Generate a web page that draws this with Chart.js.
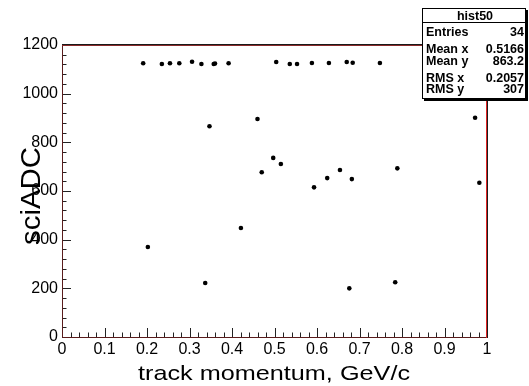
<!DOCTYPE html>
<html>
<head>
<meta charset="utf-8">
<script src="https://cdn.jsdelivr.net/npm/chart.js@4.4.0/dist/chart.umd.min.js"></script>
<style>
  html, body { margin: 0; padding: 0; background: #fff; }
  #wrap { width: 529px; height: 386px; }
</style>
</head>
<body>
<div id="wrap"><canvas id="hist50" width="529" height="386"></canvas></div>
<script>
// track momentum (GeV/c) and sciADC for each entry of hist50
var momentum = [0.191, 0.235, 0.254, 0.276, 0.306, 0.328, 0.357, 0.360, 0.392, 0.504,
                0.536, 0.553, 0.588, 0.628, 0.670, 0.684, 0.748,
                0.202, 0.337, 0.347, 0.421, 0.460, 0.470, 0.497, 0.515, 0.593,
                0.624, 0.654, 0.676, 0.682, 0.784, 0.789, 0.972, 0.982];
var sciAdc = [1125, 1122, 1125, 1125, 1131, 1122, 1122, 1124, 1125, 1130,
              1122, 1122, 1126, 1126, 1130, 1127, 1126,
              370, 222, 866, 448, 896, 677, 736, 711, 615,
              653, 686, 200, 649, 225, 693, 901, 634];

var xTicks = [0, 0.1, 0.2, 0.3, 0.4, 0.5, 0.6, 0.7, 0.8, 0.9, 1];
var yTicks = [0, 200, 400, 600, 800, 1000, 1200];
var xMinorStep = 0.02;
var yMinorStep = 40;

var statsTitle = 'hist50';
var statLabels = ['Entries', 'Mean x', 'Mean y', 'RMS x', 'RMS y'];
var statValues = ['34', '0.5166', '863.2', '0.2057', '307'];

var FONT = '"Liberation Sans", Arial, Helvetica, sans-serif';

var points = momentum.map(function (p, i) {
    return { x: p, y: sciAdc[i] };
});

// fill text squeezed/stretched to a given width
function fitText(ctx, text, x, y, width) {
    var w = ctx.measureText(text).width;
    ctx.save();
    ctx.translate(x, y);
    ctx.scale(width / w, 1);
    ctx.fillText(text, 0, 0);
    ctx.restore();
}

var rootFrame = {
    id: 'rootFrame',
    afterDraw: function (chart) {
        var ctx = chart.ctx;
        var a = chart.chartArea;
        var xs = chart.scales.x;
        var ys = chart.scales.y;
        ctx.save();

        // tick marks, drawn inward
        ctx.strokeStyle = '#222';
        ctx.lineWidth = 1;
        ctx.beginPath();
        var nx = Math.round((xs.max - xs.min) / xMinorStep);
        for (var i = 0; i <= nx; i++) {
            var px = Math.round(xs.getPixelForValue(xs.min + i * xMinorStep)) + 0.5;
            var len = (i % 5 === 0) ? 9 : 4.5;
            ctx.moveTo(px, a.bottom);
            ctx.lineTo(px, a.bottom - len);
        }
        var ny = Math.round((ys.max - ys.min) / yMinorStep);
        for (var j = 0; j <= ny; j++) {
            var py = Math.round(ys.getPixelForValue(ys.min + j * yMinorStep)) + 0.5;
            var ylen = (j % 5 === 0) ? 9 : 4.5;
            ctx.moveTo(a.left, py);
            ctx.lineTo(a.left + ylen, py);
        }
        ctx.stroke();

        // frame
        ctx.beginPath();
        ctx.strokeStyle = '#5a1c1c';
        ctx.moveTo(a.left + 0.5, a.top);
        ctx.lineTo(a.left + 0.5, a.bottom + 0.5);
        ctx.lineTo(a.right, a.bottom + 0.5);
        ctx.stroke();
        ctx.beginPath();
        ctx.strokeStyle = '#1a1a1a';
        ctx.moveTo(a.left, a.top - 0.5);
        ctx.lineTo(a.right + 1, a.top - 0.5);
        ctx.moveTo(a.right + 0.5, a.top);
        ctx.lineTo(a.right + 0.5, a.bottom + 1);
        ctx.stroke();
        ctx.beginPath();
        ctx.strokeStyle = '#8a2a2a';
        ctx.moveTo(a.left, a.top + 0.5);
        ctx.lineTo(a.right, a.top + 0.5);
        ctx.stroke();
        ctx.beginPath();
        ctx.strokeStyle = '#e02424';
        ctx.moveTo(a.right - 0.5, a.top);
        ctx.lineTo(a.right - 0.5, a.bottom + 1);
        ctx.stroke();

        // axis titles
        ctx.fillStyle = '#000';
        ctx.textBaseline = 'alphabetic';
        ctx.textAlign = 'left';
        ctx.font = '21px ' + FONT;
        fitText(ctx, 'track momentum, GeV/c', 138, 380, 272);

        ctx.save();
        ctx.translate(40, 245);
        ctx.rotate(-Math.PI / 2);
        ctx.font = '27px ' + FONT;
        fitText(ctx, 'sciADC', 0, 0, 98);
        ctx.restore();

        // statistics box
        var bx = 422, by = 8, bw = 104, bh = 91;
        ctx.fillStyle = '#000';
        ctx.fillRect(bx + 2, by + 2, bw, bh);
        ctx.fillStyle = '#fff';
        ctx.fillRect(bx, by, bw, bh);
        ctx.strokeStyle = '#000';
        ctx.strokeRect(bx + 0.5, by + 0.5, bw - 1, bh - 1);
        ctx.beginPath();
        ctx.moveTo(bx, by + 14.5);
        ctx.lineTo(bx + bw, by + 14.5);
        ctx.stroke();

        ctx.fillStyle = '#000';
        ctx.font = 'bold 12.5px ' + FONT;
        ctx.textAlign = 'center';
        ctx.fillText(statsTitle, bx + bw / 2 + 1, by + 12);
        var rowY = [36, 53, 64.5, 81.5, 92.5];
        for (var k = 0; k < statLabels.length; k++) {
            ctx.textAlign = 'left';
            ctx.fillText(statLabels[k], bx + 4, rowY[k]);
            ctx.textAlign = 'right';
            ctx.fillText(statValues[k], bx + bw - 2, rowY[k]);
        }
        ctx.restore();
    }
};

new Chart(document.getElementById('hist50').getContext('2d'), {
    type: 'scatter',
    data: {
        datasets: [{
            label: statsTitle,
            data: points,
            backgroundColor: '#000',
            borderWidth: 0,
            pointRadius: 2.3,
            pointHoverRadius: 2.3
        }]
    },
    options: {
        responsive: false,
        animation: false,
        devicePixelRatio: 1,
        events: [],
        layout: {
            padding: { top: 45, right: 42, left: 0, bottom: 0 }
        },
        plugins: {
            legend: { display: false },
            tooltip: { enabled: false }
        },
        scales: {
            x: {
                type: 'linear',
                min: 0,
                max: 1,
                grid: { display: false, drawTicks: false },
                border: { display: false },
                afterBuildTicks: function (scale) {
                    scale.ticks = xTicks.map(function (v) { return { value: v }; });
                },
                afterFit: function (scale) { scale.height = 49; },
                ticks: {
                    color: '#000',
                    padding: 3,
                    maxRotation: 0,
                    autoSkip: false,
                    font: { family: FONT, size: 16 },
                    callback: function (v) { return String(Math.round(v * 10) / 10); }
                }
            },
            y: {
                type: 'linear',
                min: 0,
                max: 1200,
                grid: { display: false, drawTicks: false },
                border: { display: false },
                afterBuildTicks: function (scale) {
                    scale.ticks = yTicks.map(function (v) { return { value: v }; });
                },
                afterFit: function (scale) { scale.width = 62; },
                ticks: {
                    color: '#000',
                    padding: 4,
                    autoSkip: false,
                    font: { family: FONT, size: 16 },
                    callback: function (v) { return String(v); }
                }
            }
        }
    },
    plugins: [rootFrame]
});
</script>
</body>
</html>
